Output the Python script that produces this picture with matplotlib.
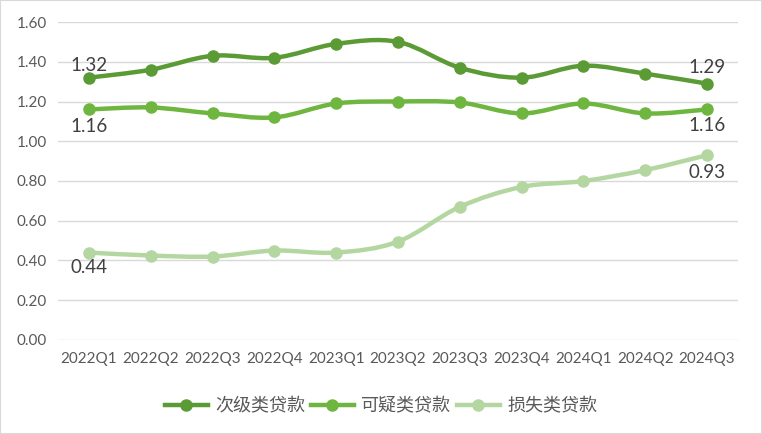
import matplotlib
matplotlib.use("Agg")
import matplotlib.pyplot as plt
from matplotlib.path import Path
from matplotlib.patches import PathPatch, Rectangle
from matplotlib.lines import Line2D
import numpy as np

plt.rcParams["font.family"] = ["Lato", "Noto Sans CJK SC", "DejaVu Sans"]

quarters = ["2022Q1", "2022Q2", "2022Q3", "2022Q4", "2023Q1", "2023Q2",
            "2023Q3", "2023Q4", "2024Q1", "2024Q2", "2024Q3"]
substandard = [1.32, 1.36, 1.43, 1.42, 1.49, 1.50, 1.37, 1.32, 1.38, 1.34, 1.29]
doubtful = [1.16, 1.17, 1.14, 1.12, 1.19, 1.20, 1.195, 1.14, 1.19, 1.14, 1.16]
loss = [0.44, 0.425, 0.42, 0.45, 0.44, 0.495, 0.67, 0.77, 0.80, 0.855, 0.93]
names = ["次级类贷款", "可疑类贷款", "损失类贷款"]
colors = ["#5B9B35", "#6FB640", "#B4D7A2"]

TEXT = "#595959"


def smooth_path(xs, ys):
    # bezier smoothing like office charts
    pts = np.column_stack([xs, ys])
    verts = [pts[0]]
    codes = [Path.MOVETO]
    n = len(pts)
    for i in range(n - 1):
        p0 = pts[i - 1] if i > 0 else pts[i]
        p1 = pts[i]
        p2 = pts[i + 1]
        p3 = pts[i + 2] if i + 2 < n else pts[i + 1]
        c1 = p1 + (p2 - p0) / 6
        c2 = p2 - (p3 - p1) / 6
        verts += [c1, c2, p2]
        codes += [Path.CURVE4] * 3
    return Path(verts, codes)


fig = plt.figure(figsize=(7.62, 4.34), dpi=100)
fig.patches.append(Rectangle((0, 0), 1, 1, transform=fig.transFigure,
                             fill=False, edgecolor="#D9D9D9", linewidth=1.5))
ax = fig.add_axes([0.0761, 0.2166, 0.8924, 0.7327])

x = np.arange(len(quarters))
series = [substandard, doubtful, loss]
for vals, c in zip(series, colors):
    ax.add_patch(PathPatch(smooth_path(x, vals), fill=False, edgecolor=c,
                           linewidth=3.2, capstyle="round", zorder=3))
    ax.plot(x, vals, linestyle="none", marker="o", markersize=8,
            color=c, zorder=4)

# data labels at ends (offsets in points)
lab_off = [(8.5, 11.5), (-12, -11.5), (-10.5, -12.5)]
for vals, offs in zip(series, lab_off):
    for i, off in zip((0, len(vals) - 1), offs):
        ax.annotate(f"{vals[i]:.2f}", (x[i], vals[i]), xytext=(0, off),
                    textcoords="offset points", ha="center", va="center",
                    fontsize=13.5, color="#404040", zorder=5)

ax.set_xlim(-0.5, len(quarters) - 0.5)
ax.set_ylim(0, 1.6)
ax.set_yticks(np.arange(0, 1.61, 0.2))
ax.set_yticklabels([f"{v:.2f}" for v in np.arange(0, 1.61, 0.2)])
ax.set_xticks(x)
ax.set_xticklabels(quarters)
ax.tick_params(axis="both", length=0, labelsize=11, colors=TEXT)
ax.tick_params(axis="x", pad=9)
ax.tick_params(axis="y", pad=8)
ax.grid(axis="y", color="#D9D9D9", linewidth=1)
ax.set_axisbelow(True)
for s in ax.spines.values():
    s.set_visible(False)

handles = [Line2D([], [], color=c, linewidth=3.2, marker="o", markersize=8)
           for c in colors]
fig.legend(handles, names, loc="center", bbox_to_anchor=(0.5, 0.065),
           ncol=3, frameon=False, fontsize=13, labelcolor=TEXT,
           handlelength=2.4, columnspacing=0.3, handletextpad=0.4)

fig.savefig("out.png", dpi=100)
